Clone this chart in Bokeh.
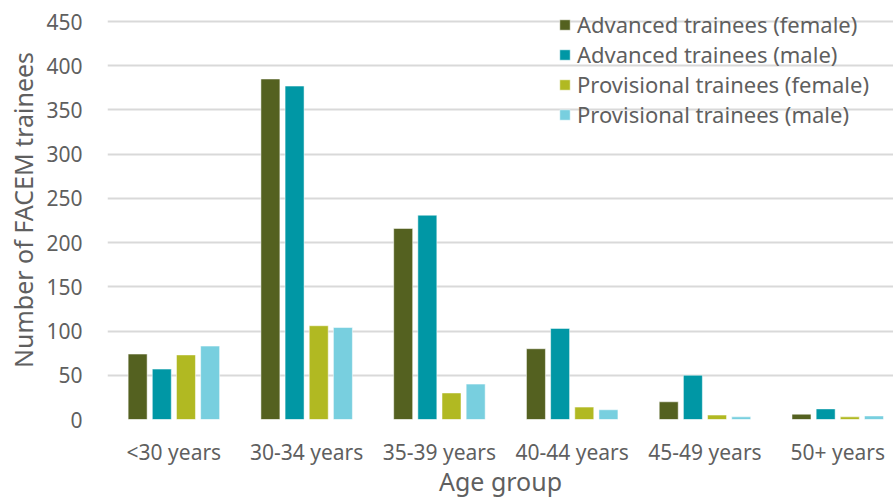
from bokeh.plotting import figure
from bokeh.models import Range1d, FixedTicker, ColumnDataSource, Legend, LegendItem
from bokeh.embed import file_html
from bokeh.resources import INLINE

categories = ["<30 years", "30-34 years", "35-39 years", "40-44 years", "45-49 years", "50+ years"]
adv_female = [74, 385, 216, 80, 20, 6]
adv_male = [57, 377, 231, 103, 50, 12]
prov_female = [73, 106, 30, 14, 5, 3]
prov_male = [83, 104, 40, 11, 3, 4]
y_ticks = [0, 50, 100, 150, 200, 250, 300, 350, 400, 450]

series = [
    ("Advanced trainees (female)", adv_female, "#546120"),
    ("Advanced trainees (male)", adv_male, "#0097a5"),
    ("Provisional trainees (female)", prov_female, "#b1b922"),
    ("Provisional trainees (male)", prov_male, "#78cfdf"),
]

FONT = "Noto Sans"
GRAY = "#5f5f5f"

# frame spans the full top of the canvas; 450 gridline sits 21px below its top
p = figure(width=893, height=501, output_backend="svg", toolbar_location=None,
           x_range=Range1d(-0.5, 5.42), y_range=Range1d(0, 450 * 419 / 398),
           min_border_left=107, min_border_right=0, min_border_top=0, min_border_bottom=82)
p.outline_line_color = None
p.background_fill_color = "white"

xs = list(range(len(categories)))
step = 0.182
width = 0.143
items = []
for i, (name, vals, col) in enumerate(series):
    off = (i - 1.5) * step
    src = ColumnDataSource(dict(x=[x + off for x in xs], top=vals))
    r = p.vbar(x="x", top="top", width=width, bottom=0, source=src,
               fill_color=col, line_color="white", line_alpha=0.5, line_width=1)
    items.append(LegendItem(label=name, renderers=[r]))

legend = Legend(items=items, location=(451, 290), padding=0, margin=0, spacing=0,
                label_height=30, glyph_height=13, glyph_width=13, label_standoff=6,
                label_text_font=FONT, label_text_font_size="22px", label_text_color=GRAY,
                background_fill_alpha=0, border_line_color=None)
p.add_layout(legend)

p.xaxis.ticker = FixedTicker(ticks=xs)
p.xaxis.major_label_overrides = {i: c for i, c in enumerate(categories)}
p.xaxis.axis_line_color = None
p.xaxis.major_tick_line_color = None
p.xaxis.minor_tick_line_color = None
p.xaxis.major_label_text_font = FONT
p.xaxis.major_label_text_font_size = "21px"
p.xaxis.major_label_text_color = GRAY
p.xaxis.major_label_standoff = 12
p.xaxis.axis_label = "Age group"
p.xaxis.axis_label_text_font = FONT
p.xaxis.axis_label_text_font_size = "25px"
p.xaxis.axis_label_text_font_style = "normal"
p.xaxis.axis_label_text_color = GRAY
p.xaxis.axis_label_standoff = -5

p.yaxis.ticker = FixedTicker(ticks=y_ticks)
p.yaxis.axis_line_color = None
p.yaxis.major_tick_line_color = None
p.yaxis.minor_tick_line_color = None
p.yaxis.major_label_text_font = FONT
p.yaxis.major_label_text_font_size = "21px"
p.yaxis.major_label_text_color = GRAY
p.yaxis.major_label_standoff = 19
p.yaxis.axis_label = "Number of FACEM trainees"
p.yaxis.axis_label_text_font = FONT
p.yaxis.axis_label_text_font_size = "25px"
p.yaxis.axis_label_text_font_style = "normal"
p.yaxis.axis_label_text_color = GRAY
p.yaxis.axis_label_standoff = 3

p.xgrid.grid_line_color = None
p.ygrid.ticker = FixedTicker(ticks=y_ticks)
p.ygrid.grid_line_color = "#d9d9d9"
p.ygrid.grid_line_width = 2

open("out.html", "w").write(file_html(p, INLINE))
